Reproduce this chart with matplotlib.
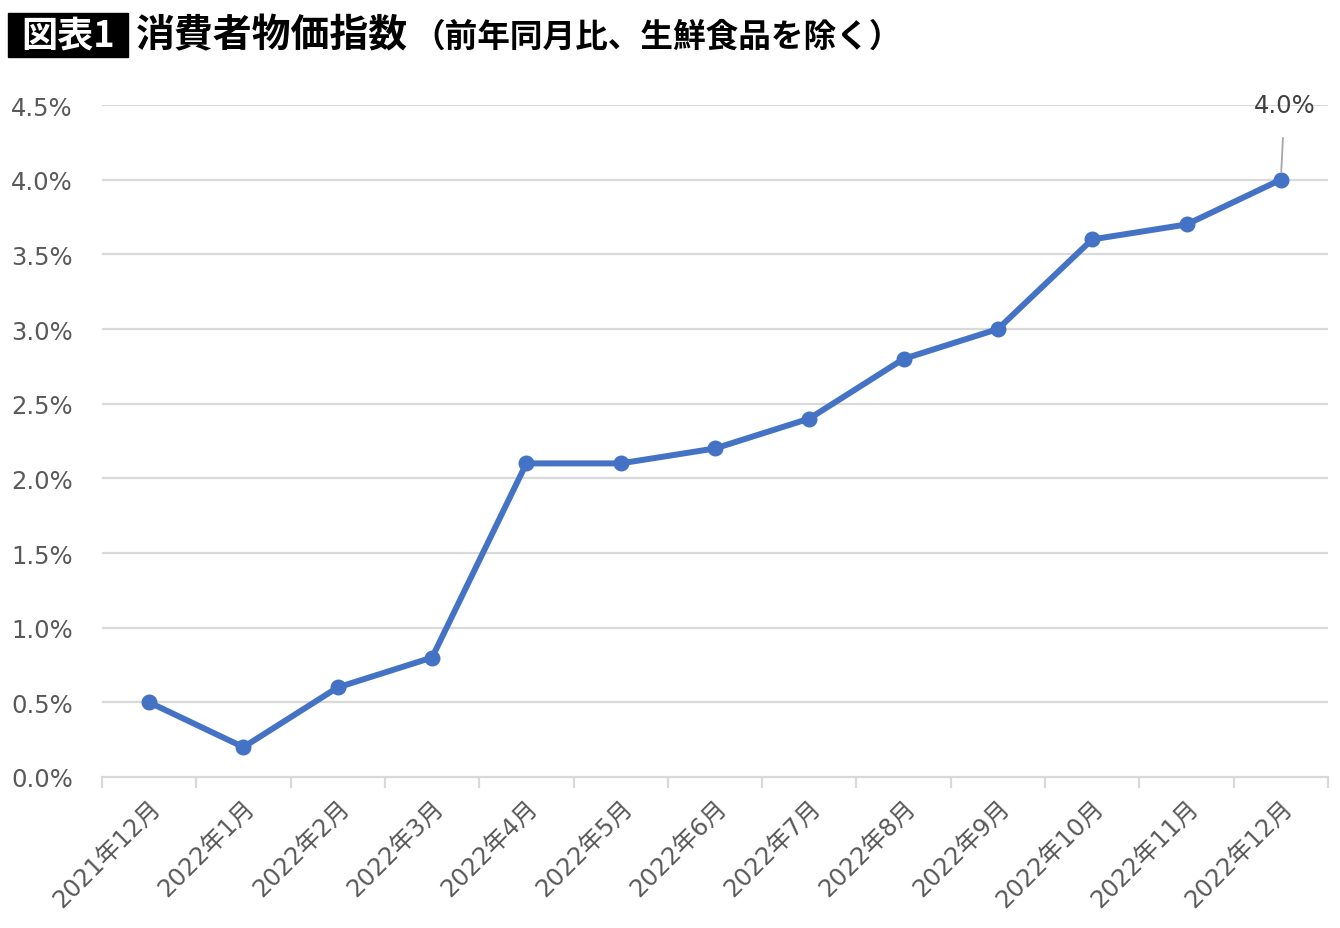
import matplotlib
matplotlib.use("Agg")
import matplotlib.pyplot as plt
from matplotlib.patches import Rectangle
import numpy as np

categories = ["2021年12月", "2022年1月", "2022年2月", "2022年3月", "2022年4月",
              "2022年5月", "2022年6月", "2022年7月", "2022年8月", "2022年9月",
              "2022年10月", "2022年11月", "2022年12月"]
values = [0.5, 0.2, 0.6, 0.8, 2.1, 2.1, 2.2, 2.4, 2.8, 3.0, 3.6, 3.7, 4.0]
yticks = [0.0, 0.5, 1.0, 1.5, 2.0, 2.5, 3.0, 3.5, 4.0, 4.5]
ytick_labels = ["0.0%", "0.5%", "1.0%", "1.5%", "2.0%", "2.5%", "3.0%", "3.5%", "4.0%", "4.5%"]
title_tag = "図表1"
title_main = "消費者物価指数"
title_sub = "（前年同月比、生鮮食品を除く）"
last_label = "4.0%"

W, H = 1340, 929
fig = plt.figure(figsize=(W / 100, H / 100), dpi=100)
ax = fig.add_axes([102 / W, 1 - 778 / H, (1328 - 102) / W, (778 - 106) / H])

grid_c = "#D9D9D9"
line_c = "#4472C4"
txt_c = "#595959"
fam = ["DejaVu Sans", "Noto Sans CJK JP"]

x = np.arange(len(categories))
ax.set_xlim(-0.5, len(categories) - 0.5)
ax.set_ylim(0, 4.5)

for yv in yticks[1:]:
    ax.axhline(yv, color=grid_c, lw=1.6, zorder=1)

ax.plot(x, values, color=line_c, lw=4.3, marker="o", markersize=10.5,
        zorder=3, solid_capstyle="round", clip_on=False)

for s in ["top", "right", "left"]:
    ax.spines[s].set_visible(False)
ax.spines["bottom"].set_color(grid_c)
ax.spines["bottom"].set_linewidth(1.6)

ax.set_yticks(yticks)
ax.set_yticklabels(ytick_labels, fontsize=17.5, color=txt_c, family=fam)
ax.tick_params(axis="y", length=0, pad=21)

ax.set_xticks(np.arange(-0.5, len(categories) + 0.5, 1.0))
ax.set_xticklabels([])
ax.tick_params(axis="x", which="major", length=8, width=1.6, color=grid_c, direction="out")
ax.set_xticks(x, minor=True)
ax.set_xticklabels(categories, minor=True, rotation=45, ha="right",
                   rotation_mode="anchor", fontsize=17.5, color=txt_c, family=fam)
ax.tick_params(axis="x", which="minor", length=0, pad=13)

# data label for last point
ax.annotate(last_label, xy=(x[-1], values[-1]), xytext=(x[-1] + 0.04, 4.5),
            textcoords="data", ha="center", va="center", fontsize=17.5,
            color="#404040", family=fam,
            arrowprops=dict(arrowstyle="-", color="#A6A6A6", lw=1.3,
                            shrinkA=13, shrinkB=6),
            zorder=4, annotation_clip=False)

# title
fig.patches.append(Rectangle((8 / W, 1 - 58 / H), 120 / W, 44 / H,
                             transform=fig.transFigure, color="black", zorder=0))
fig.text(68 / W, 1 - 36 / H, title_tag, color="white", fontsize=26,
         fontweight="bold", family=["Noto Sans CJK JP"], ha="center", va="center")
fig.text(136 / W, 1 - 36 / H, title_main, color="black", fontsize=28,
         fontweight="bold", family=["Noto Sans CJK JP"], ha="left", va="center")
fig.text(412 / W, 1 - 37 / H, title_sub, color="black", fontsize=23.5,
         fontweight="bold", family=["Noto Sans CJK JP"], ha="left", va="center")

fig.savefig("out.png", dpi=100, facecolor="white")
